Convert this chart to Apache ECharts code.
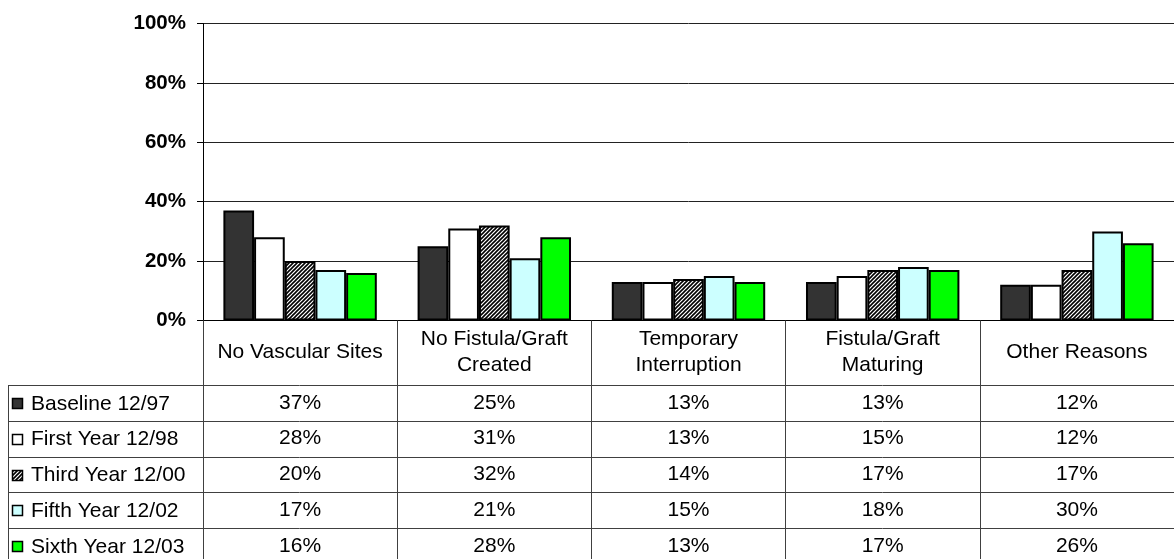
<!DOCTYPE html>
<html>
<head>
<meta charset="utf-8">
<title>Catheter use reasons</title>
<script src="https://cdn.jsdelivr.net/npm/echarts@6/dist/echarts.min.js"></script>
<style>
  html, body { margin: 0; padding: 0; background: #ffffff; }
  #chart { width: 1174px; height: 559px; }
</style>
</head>
<body>
<div id="chart"></div>
<script>
// data
const categories = ['No Vascular Sites', 'No Fistula/Graft\nCreated', 'Temporary\nInterruption', 'Fistula/Graft\nMaturing', 'Other Reasons']
const seriesNames = ['Baseline 12/97', 'First Year 12/98', 'Third Year 12/00', 'Fifth Year 12/02', 'Sixth Year 12/03']
const baseline = [37, 25, 13, 13, 12]
const firstYear = [28, 31, 13, 15, 12]
const thirdYear = [20, 32, 14, 17, 17]
const fifthYear = [17, 21, 15, 18, 30]
const sixthYear = [16, 28, 13, 17, 26]

const FONT = '"Liberation Sans", Arial, sans-serif'

// diagonal hatch used for the third year bars
const makeHatch = () => {
  const c = document.createElement('canvas')
  c.width = 4
  c.height = 4
  const ctx = c.getContext('2d')
  ctx.fillStyle = '#ffffff'
  ctx.fillRect(0, 0, 4, 4)
  ctx.strokeStyle = '#000000'
  ctx.lineWidth = 1.6
  ctx.beginPath()
  ctx.moveTo(0, 4); ctx.lineTo(4, 0)
  ctx.moveTo(-1, 1); ctx.lineTo(1, -1)
  ctx.moveTo(3, 5); ctx.lineTo(5, 3)
  ctx.stroke()
  return c
}
const hatch = { image: makeHatch(), repeat: 'repeat' }

const values = [baseline, firstYear, thirdYear, fifthYear, sixthYear]
const fills = ['#333333', '#ffffff', hatch, '#ccffff', '#00ff00']

const chart = echarts.init(document.getElementById('chart'))

chart.setOption({
  animation: false,
  grid: { left: 203, right: 0, top: 23.5, bottom: 238.5 },
  xAxis: {
    type: 'category',
    data: categories,
    axisLine: { show: true, lineStyle: { color: '#000', width: 1 } },
    axisTick: { show: true, interval: 0, alignWithLabel: false, length: 240, lineStyle: { color: '#404040', width: 1 } },
    axisLabel: {
      color: '#000',
      fontFamily: FONT,
      fontSize: 21,
      lineHeight: 26,
      verticalAlign: 'middle',
      margin: 32,
      interval: 0
    }
  },
  yAxis: {
    type: 'value',
    min: 0,
    max: 100,
    interval: 20,
    axisLine: { show: true, lineStyle: { color: '#000' } },
    axisTick: { show: true, length: 6, lineStyle: { color: '#000' } },
    splitLine: { lineStyle: { color: '#222', width: 1 } },
    axisLabel: {
      formatter: '{value}%',
      color: '#000',
      fontFamily: FONT,
      fontWeight: 'bold',
      fontSize: 20.5,
      margin: 17
    }
  },
  series: seriesNames.map((name, i) => ({
    name: name,
    type: 'bar',
    data: values[i],
    barGap: '0%',
    barCategoryGap: '21%',
    itemStyle: { color: fills[i], borderColor: '#000', borderWidth: 2 },
    emphasis: { disabled: true }
  }))
})

// data table under the plot
const tableTop = 385
const rowH = 35.8
const tableLeft = 8
const lineColor = '#404040'
const graphic = []

for (let r = 0; r <= seriesNames.length; r++) {
  const y = Math.round(tableTop + r * rowH) + 0.5
  graphic.push({
    type: 'line',
    shape: { x1: tableLeft, y1: y, x2: 1174, y2: y },
    style: { stroke: lineColor, lineWidth: 1 }
  })
}
graphic.push({
  type: 'line',
  shape: { x1: tableLeft + 0.5, y1: tableTop, x2: tableLeft + 0.5, y2: 559 },
  style: { stroke: lineColor, lineWidth: 1 }
})

seriesNames.forEach((name, r) => {
  const cy = tableTop + (r + 0.5) * rowH
  graphic.push({
    type: 'rect',
    shape: { x: 12.5, y: Math.round(cy - 5) + 0.5, width: 10, height: 10 },
    style: { fill: fills[r], stroke: '#000', lineWidth: 1.5 }
  })
  graphic.push({
    type: 'text',
    x: 31,
    y: cy + 1,
    style: { text: name, fill: '#000', font: '21px ' + FONT, verticalAlign: 'middle', align: 'left' }
  })
  values[r].forEach((v, c) => {
    const cx = chart.convertToPixel({ xAxisIndex: 0 }, c)
    graphic.push({
      type: 'text',
      x: cx,
      y: cy,
      style: { text: v + '%', fill: '#000', font: '21px ' + FONT, verticalAlign: 'middle', align: 'center' }
    })
  })
})

chart.setOption({ graphic: graphic })
</script>
</body>
</html>
